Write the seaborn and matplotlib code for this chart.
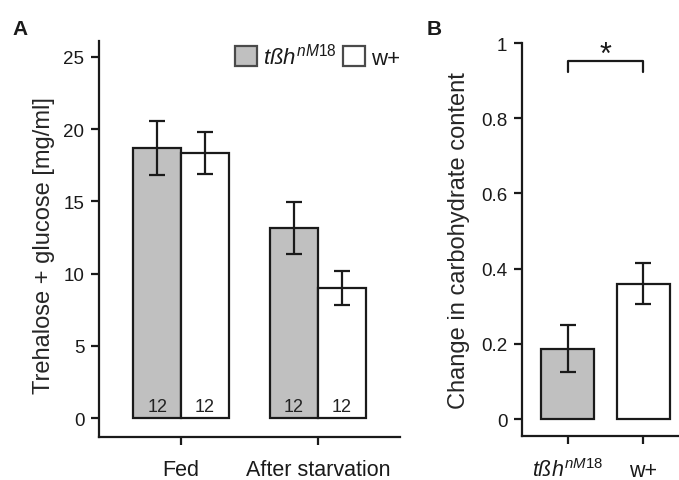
import numpy as np
import pandas as pd
import matplotlib
matplotlib.use("Agg")
import matplotlib.pyplot as plt
import seaborn as sns
from matplotlib.patches import Patch

# panel A data
conditions = ["Fed", "After starvation"]
genotypes = ["tbh", "w+"]
mean_tbh = [18.7, 13.15]
err_tbh = [1.85, 1.8]
mean_wt = [18.35, 9.0]
err_wt = [1.45, 1.18]
n_counts = [["12", "12"], ["12", "12"]]

# panel B data
change_groups = ["tbh", "w+"]
change_mean = [0.187, 0.36]
change_err = [0.062, 0.055]

grey = "#c0c0c0"
edge = "#1a1a1a"

sns.set_theme(style="ticks")
plt.rcParams["font.family"] = ["Liberation Sans", "DejaVu Sans"]
plt.rcParams["mathtext.fontset"] = "custom"
plt.rcParams["mathtext.rm"] = "Liberation Sans"
plt.rcParams["mathtext.it"] = "Liberation Sans:italic"
plt.rcParams["axes.linewidth"] = 1.6
plt.rcParams["xtick.major.width"] = 1.6
plt.rcParams["ytick.major.width"] = 1.6
plt.rcParams["xtick.major.size"] = 5.5
plt.rcParams["ytick.major.size"] = 5.5
plt.rcParams["xtick.color"] = edge
plt.rcParams["ytick.color"] = edge
plt.rcParams["axes.edgecolor"] = edge
plt.rcParams["text.color"] = edge

tbh_label = r"$\mathit{t\ss h}^{\mathit{nM18}}$"

df_a = pd.DataFrame({
    "condition": conditions * 2,
    "genotype": [genotypes[0]] * 2 + [genotypes[1]] * 2,
    "value": mean_tbh + mean_wt,
})
errs_a = [err_tbh, err_wt]

fig = plt.figure(figsize=(6.79, 4.81), dpi=100)
ax_a = fig.add_axes([0.1458, 0.0894, 0.4433, 0.8233])
ax_b = fig.add_axes([0.7688, 0.0915, 0.2312, 0.8170])

sns.barplot(data=df_a, x="condition", y="value", hue="genotype",
            palette=[grey, "white"], edgecolor=edge, linewidth=1.6,
            width=0.7, errorbar=None, legend=False, ax=ax_a)
bars_a = list(ax_a.containers)
for i, cont in enumerate(bars_a):
    xs = [b.get_x() + b.get_width() / 2 for b in cont]
    ys = [b.get_height() for b in cont]
    ax_a.errorbar(xs, ys, yerr=errs_a[i], fmt="none", ecolor=edge,
                  elinewidth=1.6, capsize=5.5, capthick=1.6)
    for j, x in enumerate(xs):
        ax_a.text(x, 0.2, n_counts[j][i], ha="center", va="bottom",
                  fontsize=13, color="#222222")

ax_a.set_xlim(-0.6, 1.6)
ax_a.set_ylim(-1.3, 26.1)
ax_a.set_yticks([0, 5, 10, 15, 20, 25])
ax_a.set_xlabel("")
ax_a.set_ylabel("Trehalose + glucose [mg/ml]", fontsize=17)
ax_a.yaxis.set_label_coords(-0.146, 0.485)
ax_a.tick_params(axis="y", labelsize=13.5, pad=5)
ax_a.tick_params(axis="x", labelsize=15.5, pad=10.5)
sns.despine(ax=ax_a)

handles = [Patch(facecolor=grey, edgecolor="#4a4a4a", linewidth=1.6),
           Patch(facecolor="white", edgecolor="#4a4a4a", linewidth=1.6)]
ax_a.legend(handles, [tbh_label, "w+"], loc="upper right", ncol=2,
            frameon=False, fontsize=16, handlelength=1.0, handleheight=1.0,
            handletextpad=0.25, columnspacing=0.3, borderaxespad=0.0,
            borderpad=0.0, bbox_to_anchor=(1.0, 0.995))

# panel B
df_b = pd.DataFrame({"group": change_groups, "value": change_mean})
sns.barplot(data=df_b, x="group", y="value", hue="group",
            palette=[grey, "white"], edgecolor=edge, linewidth=1.6,
            width=0.7, errorbar=None, legend=False, ax=ax_b)
bars_b = list(ax_b.containers)
for i, cont in enumerate(bars_b):
    for b in cont:
        if b is None:
            continue
        ax_b.errorbar(b.get_x() + b.get_width() / 2, b.get_height(),
                      yerr=change_err[i], fmt="none", ecolor=edge,
                      elinewidth=1.6, capsize=5.5, capthick=1.6)

ax_b.plot([0, 0, 1, 1], [0.923, 0.952, 0.952, 0.923], color=edge, lw=1.6)
ax_b.text(0.5, 0.948, "*", ha="center", va="baseline", fontsize=22)

ax_b.set_xlim(-0.6, 1.47)
ax_b.set_ylim(-0.045, 1.0)
ax_b.set_yticks([0, 0.2, 0.4, 0.6, 0.8, 1])
ax_b.set_yticklabels(["0", "0.2", "0.4", "0.6", "0.8", "1"])
ax_b.set_xticks([0, 1])
ax_b.set_xticklabels([tbh_label, "w+"])
ax_b.set_xlabel("")
ax_b.set_ylabel("Change in carbohydrate content", fontsize=17)
ax_b.yaxis.set_label_coords(-0.331, 0.5)
ax_b.tick_params(axis="y", labelsize=13.5, pad=5)
ax_b.tick_params(axis="x", labelsize=15.5, pad=23)
for lab in ax_b.get_xticklabels():
    lab.set_va("baseline")
sns.despine(ax=ax_b)

fig.text(0.019, 0.927, "A", fontsize=15, fontweight="bold", va="baseline")
fig.text(0.629, 0.927, "B", fontsize=15, fontweight="bold", va="baseline")

fig.savefig("out.png", dpi=100)
